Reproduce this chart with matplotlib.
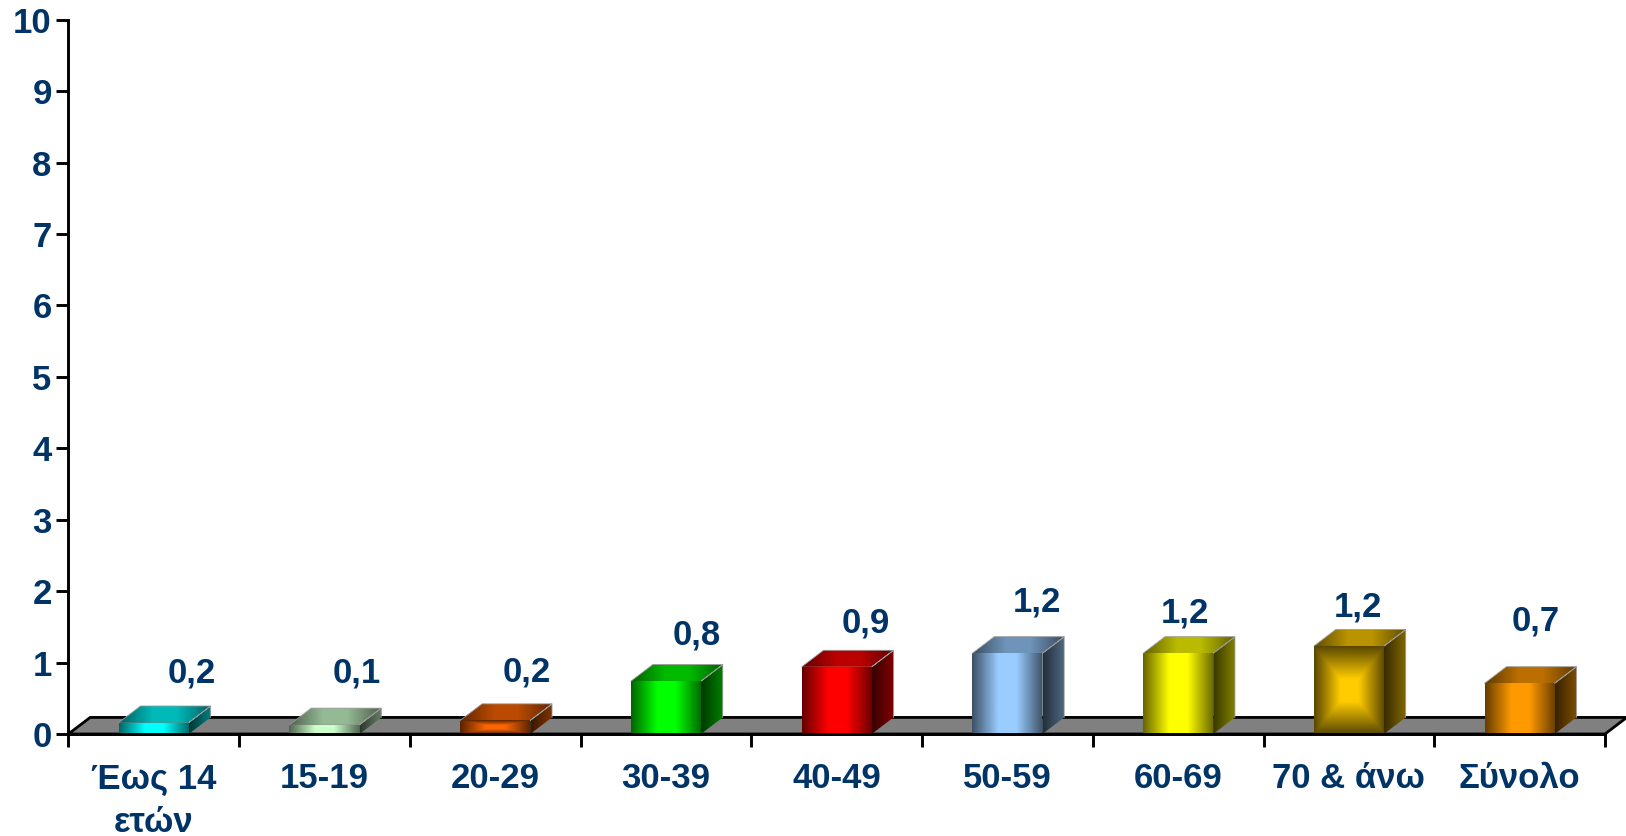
import numpy as np
from matplotlib import pyplot as plt
from matplotlib.colors import to_rgb
from matplotlib.patches import Polygon

categories = ['Έως 14\nετών', '15-19', '20-29', '30-39', '40-49', '50-59', '60-69', '70 & άνω', 'Σύνολο']
value_labels = ['0,2', '0,1', '0,2', '0,8', '0,9', '1,2', '1,2', '1,2', '0,7']
heights = [0.16, 0.13, 0.19, 0.74, 0.94, 1.13, 1.13, 1.23, 0.71]
bar_colors = ['#00FFFF', '#CCFFCC', '#FF6600', '#00FF00', '#FF0000', '#99CCFF', '#FFFF00', '#FFCC00', '#FF9900']
# bars filled with a box gradient instead of a left-right one
box_bars = [2, 7]
# hand placed data labels, pixels from the top of the bar front
label_dx = [38, 32, 32, 31, 29, 30, 7, 9, 16]
label_dy = [50, 52, 48, 46, 44, 51, 40, 39, 62]

W, H = 1626, 836
TEXT = '#003366'
FONT = 'Liberation Sans'
FONT_SIZE = 25
BAR_W = 0.41
DEPTH_X = 0.1276
DEPTH_Y = 0.232

plt.rcParams['font.family'] = [FONT, 'DejaVu Sans']
plt.rcParams['font.weight'] = 'bold'


def ramp(n=128):
    u = np.linspace(0, 1, n)
    return np.clip((1 - np.abs(2 * u - 1)) * 1.35, 0, 1)


def shade(color, factor):
    return np.clip(np.array(to_rgb(color))[None, None, :] * factor[:, :, None], 0, 1)


def face(ax, corners, color, factor):
    pts = np.array(corners)
    ext = (pts[:, 0].min(), pts[:, 0].max(), pts[:, 1].min(), pts[:, 1].max())
    im = ax.imshow(shade(color, factor), extent=ext, aspect='auto', origin='lower',
                   interpolation='bilinear', zorder=3)
    clip = Polygon(corners, closed=True, transform=ax.transData, fc='none', ec='none')
    ax.add_patch(clip)
    im.set_clip_path(clip)


def draw_bar(ax, x0, h, color, box):
    x1 = x0 + BAR_W
    r = ramp()
    if box:
        rr = np.minimum.outer(r, r)
        front = 0.35 + 0.65 * rr
    else:
        front = (0.4 + 0.6 * r)[None, :]
    side = np.linspace(0.22, 0.5, 32)[None, :]
    top = (0.38 + 0.35 * r)[None, :]
    face(ax, [(x0, 0), (x1, 0), (x1, h), (x0, h)], color, front)
    face(ax, [(x1, 0), (x1 + DEPTH_X, DEPTH_Y), (x1 + DEPTH_X, h + DEPTH_Y), (x1, h)], color, side)
    face(ax, [(x0, h), (x1, h), (x1 + DEPTH_X, h + DEPTH_Y), (x0 + DEPTH_X, h + DEPTH_Y)], color, top)
    ax.plot([x0, x0 + DEPTH_X, x1 + DEPTH_X, x1, x1 + DEPTH_X, x1 + DEPTH_X],
            [h, h + DEPTH_Y, h + DEPTH_Y, h, h + DEPTH_Y, DEPTH_Y],
            color='#999999', lw=0.6, zorder=4, solid_joinstyle='miter')


fig = plt.figure(figsize=(W / 100, H / 100), dpi=100, facecolor='white')
ax = fig.add_axes([68.4 / W, 1 - 734 / H, (1605 - 68.4) / W, (734 - 19.7) / H])

n = len(categories)
centers = np.arange(n) + 0.5

# floor
floor = Polygon([(0, 0), (n, 0), (n + DEPTH_X, DEPTH_Y), (DEPTH_X, DEPTH_Y)], closed=True,
                fc='#808080', ec='black', lw=2, clip_on=False, zorder=2)
ax.add_patch(floor)

for i, h in enumerate(heights):
    draw_bar(ax, centers[i] - BAR_W / 2, h, bar_colors[i], i in box_bars)
    ax.annotate(value_labels[i], (centers[i], h), xytext=(label_dx[i], label_dy[i]),
                textcoords='offset pixels', ha='center', va='center',
                color=TEXT, fontsize=FONT_SIZE, fontweight='bold', zorder=5)

ax.set_xlim(0, n)
ax.set_ylim(0, 10)
ax.spines['top'].set_visible(False)
ax.spines['right'].set_visible(False)
for s in ['left', 'bottom']:
    ax.spines[s].set_linewidth(2.1)
    ax.spines[s].set_zorder(6)

ax.set_yticks(range(11))
ax.set_xticks(range(n + 1))
ax.set_xticklabels([])
ax.set_xticks(centers, minor=True)
ax.set_xticklabels(categories, minor=True, linespacing=1.42)
ax.tick_params(axis='both', which='major', length=9, width=2.1, color='black')
ax.tick_params(axis='y', labelsize=FONT_SIZE, labelcolor=TEXT, pad=3)
ax.tick_params(axis='x', which='minor', length=0, labelsize=FONT_SIZE, labelcolor=TEXT, pad=20)

fig.savefig('out.png', dpi=100)
